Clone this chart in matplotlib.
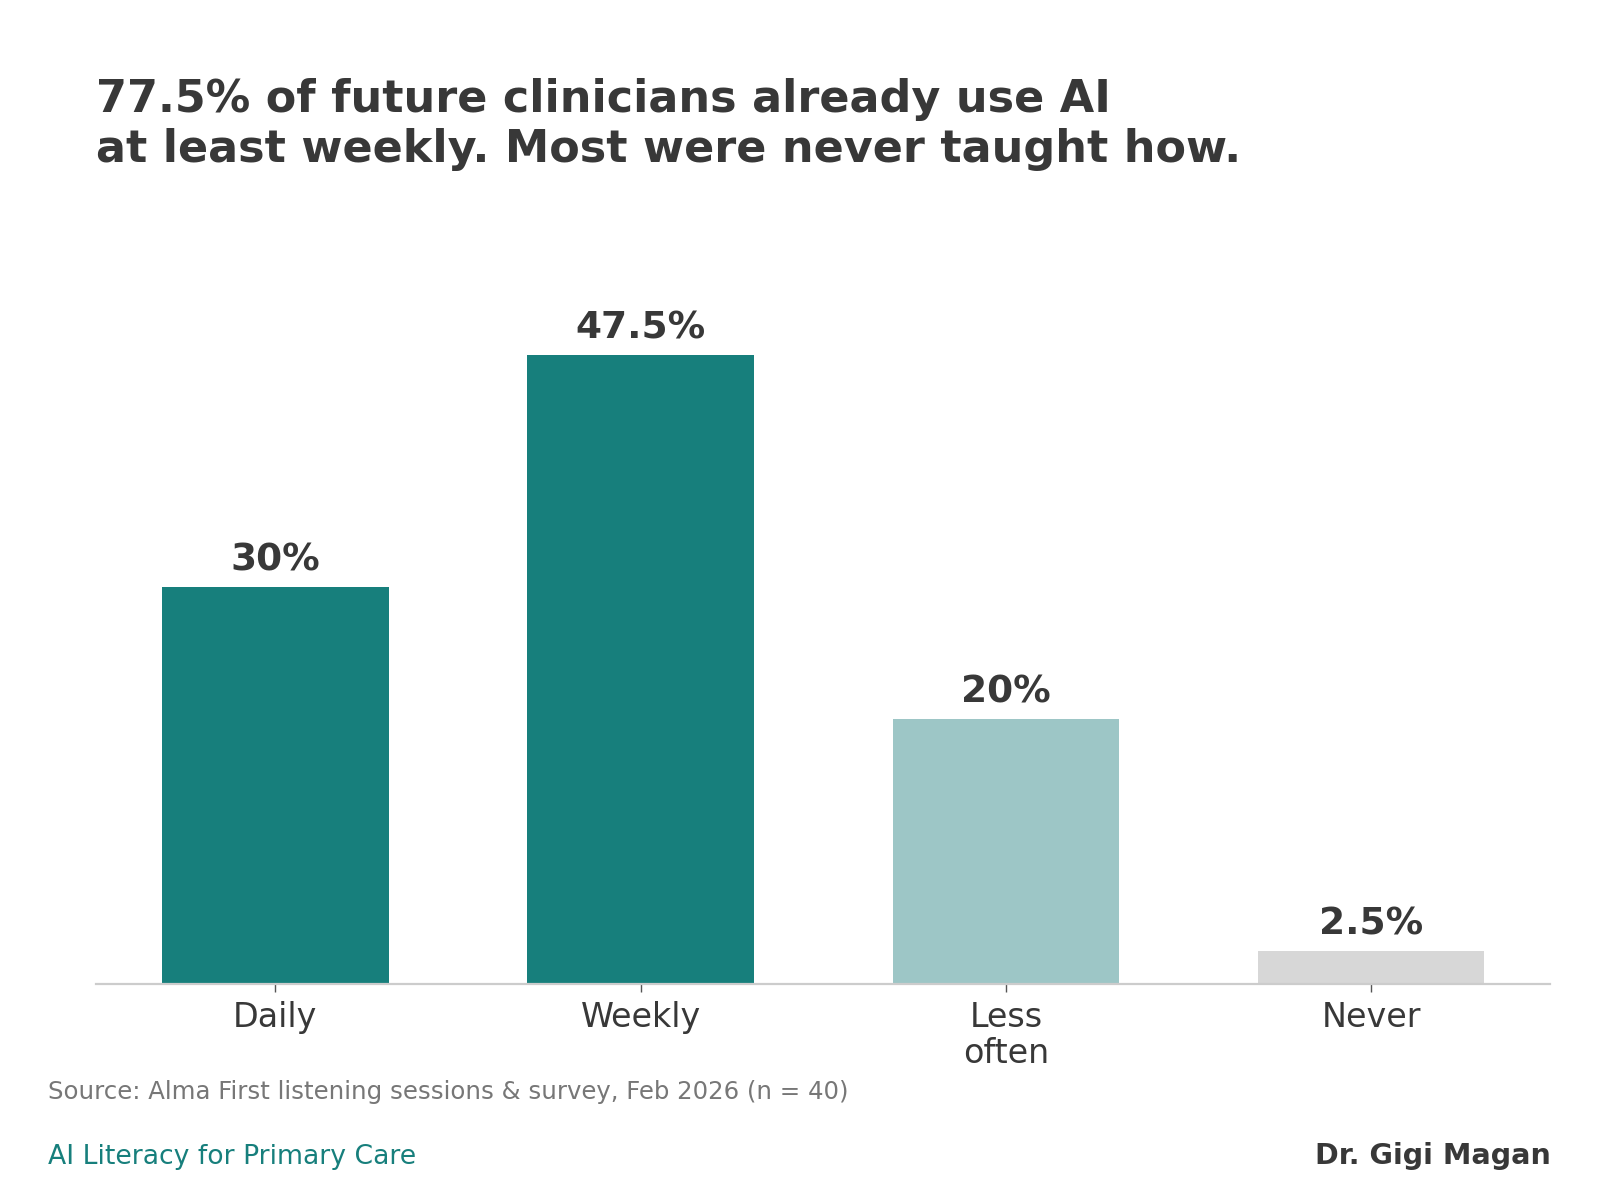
import matplotlib.pyplot as plt

categories = ['Daily', 'Weekly', 'Less\noften', 'Never']
shares = [30, 47.5, 20, 2.5]
value_labels = ['30%', '47.5%', '20%', '2.5%']
bar_colors = ['#177f7c', '#177f7c', '#9dc6c6', '#d7d7d7']

dark = '#383838'
teal = '#177f7c'

fig = plt.figure(figsize=(8, 6), dpi=200)
ax = fig.add_axes([0.06, 0.18, 0.909, 0.607])

x = range(len(categories))
ax.bar(x, shares, width=0.62, color=bar_colors)
for xi, v, lab in zip(x, shares, value_labels):
    ax.annotate(lab, (xi, v), xytext=(0, 3), textcoords='offset points',
                ha='center', va='bottom', fontsize=13.5, fontweight='bold', color=dark)

ax.set_ylim(0, 55)
ax.set_xticks(list(x))
ax.set_xticklabels(categories, fontsize=12, color=dark, linespacing=1.12)
ax.set_yticks([])
for side in ['top', 'right', 'left']:
    ax.spines[side].set_visible(False)
ax.spines['bottom'].set_color('#cccccc')
ax.spines['bottom'].set_linewidth(0.8)
ax.tick_params(axis='x', length=3, width=0.5, color='#555555', pad=3)

fig.text(0.06, 0.935, '77.5% of future clinicians already use AI\nat least weekly. Most were never taught how.',
         ha='left', va='top', fontsize=16, fontweight='bold', color=dark, linespacing=1.22)
fig.text(0.03, 0.084, 'Source: Alma First listening sessions & survey, Feb 2026 (n = 40)',
         ha='left', va='baseline', fontsize=8.8, color='#777777')
fig.text(0.03, 0.03, 'AI Literacy for Primary Care', ha='left', va='baseline',
         fontsize=9.6, color=teal)
fig.text(0.969, 0.03, 'Dr. Gigi Magan', ha='right', va='baseline',
         fontsize=10.3, fontweight='bold', color=dark)

fig.savefig('out.png', dpi=200, facecolor='white')
